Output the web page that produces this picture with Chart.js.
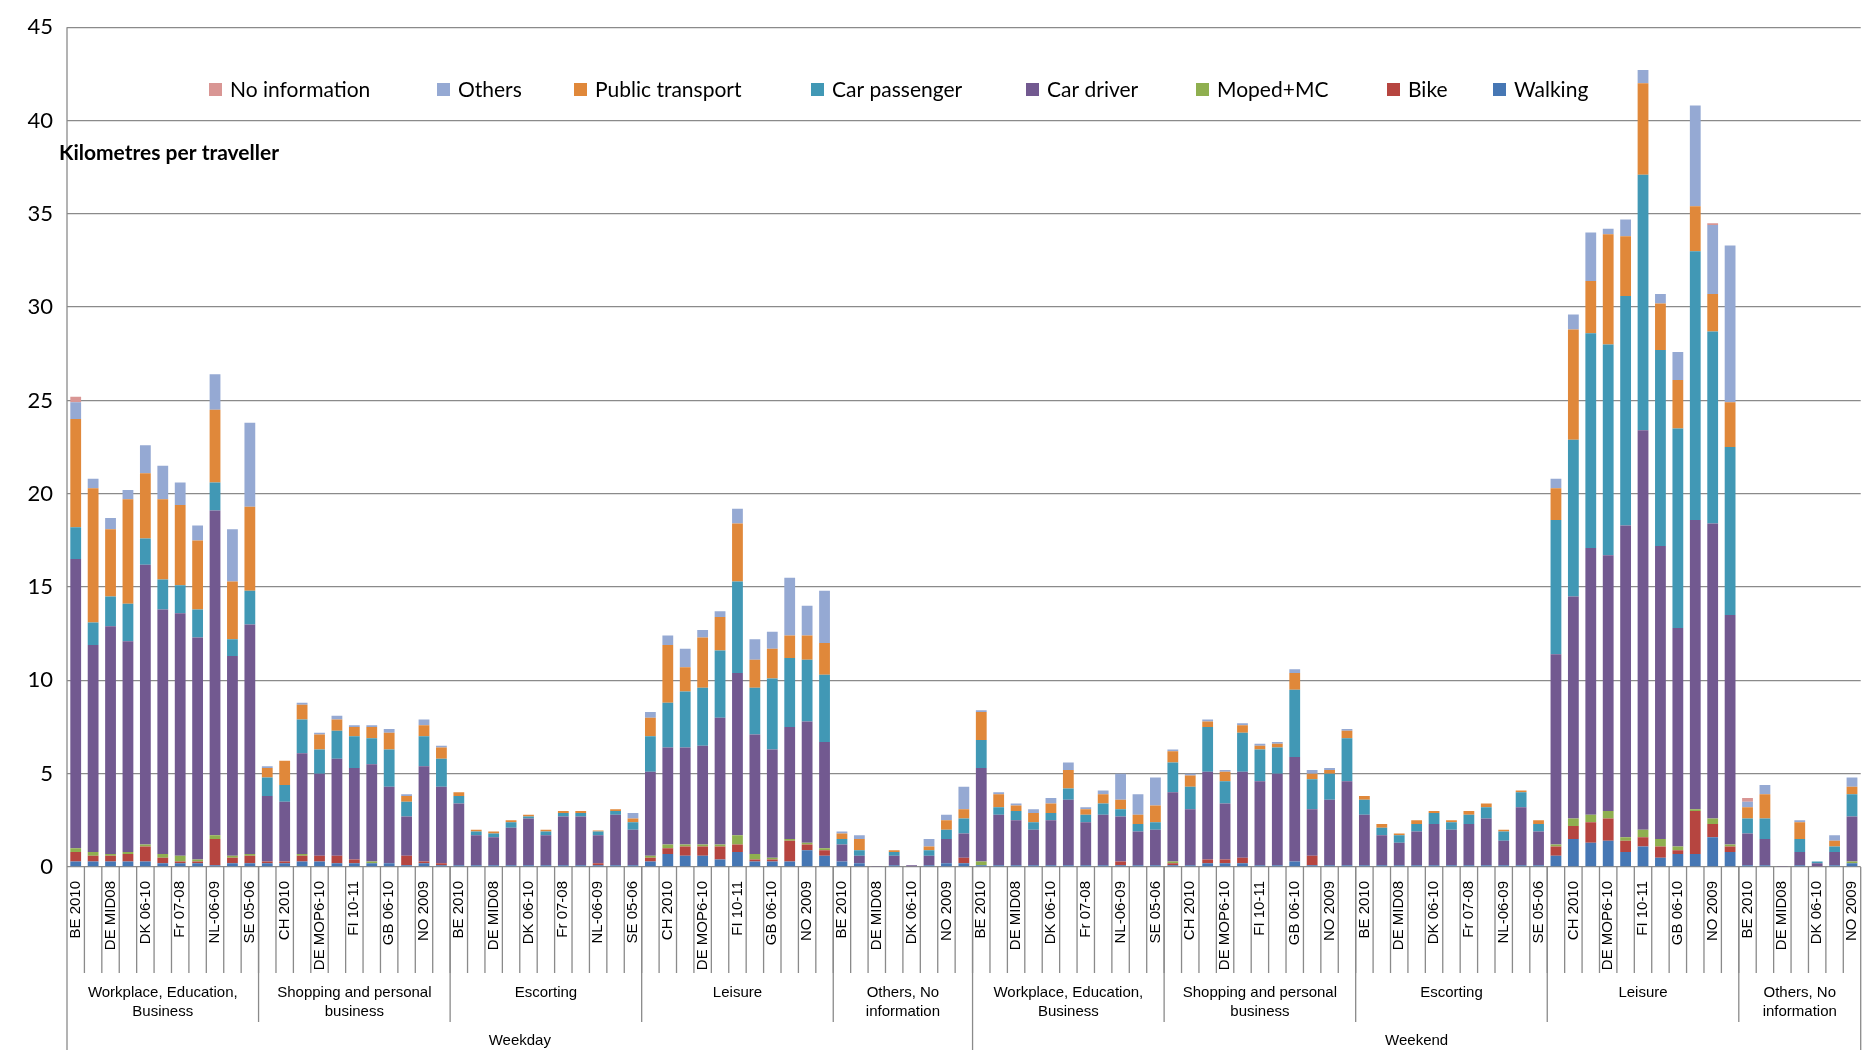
<!DOCTYPE html>
<html><head><meta charset="utf-8">
<script src="https://cdn.jsdelivr.net/npm/chart.js@4"></script>
<style>html,body{margin:0;padding:0;background:#fff}#wrap{width:1876px;height:1050px}</style>
</head><body><div id="wrap"><canvas id="c"></canvas></div>
<script>
const countries11 = ['BE 2010','CH 2010','DE MID08','DE MOP6-10','DK 06-10','FI 10-11','Fr 07-08','GB 06-10','NL-06-09','NO 2009','SE 05-06'];
const countriesOthers = ['BE 2010','CH 2010','DE MID08','DE MOP6-10','DK 06-10','GB 06-10','NO 2009','SE 05-06'];
const purposes = ['Workplace, Education,|Business','Shopping and personal|business','Escorting','Leisure','Others, No|information'];
const days = ['Weekday','Weekend'];
const groupCounts = [[11,11,11,11,8],[11,11,11,11,7]];
const seriesNames = ['Walking','Bike','Moped+MC','Car driver','Car passenger','Public transport','Others','No information'];
const seriesColors = ['#4677B4','#B64540','#8FAF4F','#725990','#4198B5','#E0883A','#95A9D3','#D99694'];

const walking = [
 .3,.3,.3,.3,.3,.2,.2,.2,.1,.2,.2,
 .2,.2,.3,.3,.2,.2,.2,.2,.1,.2,.1,
 .1,.1,.1,.1,.1,.1,.1,.1,.1,.1,.1,
 .3,.7,.6,.6,.4,.8,.3,.3,.3,.9,.6,
 .3,.2,0,.1,0,.1,.2,.2,
 .1,.1,.1,.1,.1,.1,.1,.1,.1,.1,.1,
 .1,.1,.2,.2,.2,.1,.1,.3,.1,.1,.1,
 .1,.1,.1,.1,.1,.1,.1,.1,.1,.1,.1,
 .6,1.5,1.3,1.4,.8,1.1,.5,.7,.7,1.6,.8,
 .1,.1,0,.1,0,.1,.2];
const bike = [
 .5,.3,.3,.4,.8,.3,.1,.1,1.4,.3,.4,
 .1,.1,.3,.3,.4,.2,0,0,.5,.1,.1,
 0,0,0,0,0,0,0,0,.1,0,0,
 .2,.3,.5,.5,.7,.4,.1,.1,1.1,.3,.3,
 0,0,0,0,0,0,0,.3,
 0,0,0,0,0,0,0,0,.2,0,0,
 .1,0,.2,.2,.3,0,0,0,.5,0,0,
 0,0,0,0,0,0,0,0,0,0,0,
 .5,.7,1.1,1.2,.6,.5,.6,.2,2.3,.7,.3,
 0,0,0,0,0,0,0];
const moped = [
 .2,.2,.1,.1,.1,.2,.3,.1,.2,.1,.1,
 0,0,.1,0,0,0,.1,0,0,0,0,
 0,0,0,0,0,0,0,0,0,0,0,
 .1,.2,.1,.1,.1,.5,.3,.1,.1,.1,.1,
 0,0,0,0,0,0,0,0,
 .2,0,0,0,0,0,0,0,0,0,0,
 .1,0,0,0,0,0,0,0,0,0,0,
 0,0,0,0,0,0,0,0,0,0,0,
 .1,.4,.4,.4,.2,.4,.4,.2,.1,.3,.1,
 0,0,0,0,0,0,.1];
const carDriver = [
 15.5,11.1,12.2,11.3,15,13.1,13,11.9,17.4,10.7,12.3,
 3.5,3.2,5.4,4.4,5.2,4.9,5.2,4.1,2.1,5.1,4.1,
 3.3,1.6,1.5,2.0,2.5,1.6,2.6,2.6,1.5,2.7,1.9,
 4.5,5.2,5.2,5.3,6.8,8.7,6.4,5.8,6.0,6.5,5.7,
 .9,.4,.05,.5,.1,.5,1.3,1.3,
 5.0,2.7,2.4,1.9,2.4,3.5,2.3,2.7,2.4,1.8,1.9,
 3.7,3.0,4.7,3.0,4.6,4.5,4.9,5.6,2.5,3.5,4.5,
 2.7,1.6,1.2,1.8,2.2,1.9,2.2,2.5,1.3,3.1,1.8,
 10.2,11.9,14.3,13.7,16.7,21.4,15.7,11.7,15.5,15.8,12.3,
 1.7,1.4,.05,.7,.2,.7,2.4];
const carPassenger = [
 1.7,1.2,1.6,2.0,1.4,1.6,1.5,1.5,1.5,.9,1.8,
 1.0,.9,1.8,1.3,1.5,1.7,1.4,2.0,.8,1.6,1.5,
 .4,.2,.2,.3,.1,.2,.2,.2,.2,.2,.4,
 1.9,2.4,3.0,3.1,3.6,4.9,2.5,3.8,3.7,3.3,3.6,
 .3,.3,0,.2,0,.3,.5,.8,
 1.5,.4,.5,.4,.4,.6,.4,.6,.4,.4,.4,
 1.6,1.2,2.4,1.2,2.1,1.7,1.4,3.6,1.6,1.4,2.3,
 .8,.4,.4,.4,.6,.4,.5,.6,.5,.8,.4,
 7.2,8.4,11.5,11.3,12.3,13.7,10.5,10.7,14.4,10.3,9.0,
 .8,1.1,0,.7,.1,.3,1.2];
const publicTransport = [
 5.8,7.2,3.6,5.6,3.5,4.3,4.3,3.7,3.9,3.1,4.5,
 .5,1.3,.8,.8,.6,.5,.6,.9,.3,.6,.6,
 .2,.1,.1,.1,.1,.1,.1,.1,.05,.1,.2,
 1.0,3.1,1.3,2.7,1.8,3.1,1.5,1.6,1.2,1.3,1.7,
 .3,.6,0,.1,0,.2,.5,.5,
 1.5,.7,.3,.5,.5,1.0,.3,.5,.5,.5,.9,
 .6,.6,.3,.5,.4,.2,.2,.9,.3,.2,.4,
 .2,.2,.1,.2,.1,.1,.2,.2,.1,.1,.2,
 1.7,5.9,2.8,5.9,3.2,4.9,2.5,2.6,2.4,2.0,2.4,
 .6,1.3,0,.9,0,.3,.4];
const others = [
 .9,.5,.6,.5,1.5,1.8,1.2,.8,1.9,2.8,4.5,
 .1,0,.1,.1,.2,.1,.1,.2,.1,.3,.1,
 0,0,0,0,0,0,0,0,0,0,.3,
 .3,.5,1.0,.4,.3,.8,1.1,.9,3.1,1.6,2.8,
 .1,.2,0,0,0,.4,.3,1.2,
 .1,.1,.1,.2,.3,.4,.1,.2,1.4,1.1,1.5,
 .1,.1,.1,.1,.1,.1,.1,.2,.2,.1,.1,
 0,0,0,0,0,0,0,0,0,0,0,
 .5,.8,2.6,.3,.9,.7,.5,1.5,5.4,3.7,8.4,
 .3,.5,0,.1,0,.3,.5];
const noInformation = [
 .3,0,0,0,0,0,0,0,0,0,0,
 0,0,0,0,0,0,0,0,0,0,0,
 0,0,0,0,0,0,0,0,0,0,0,
 0,0,0,0,0,0,0,0,0,0,0,
 0,0,0,0,0,0,0,0,
 0,0,0,0,0,0,0,0,0,0,0,
 0,0,0,0,0,0,0,0,0,0,0,
 0,0,0,0,0,0,0,0,0,0,0,
 0,0,0,0,0,0,0,0,0,.1,0,
 .2,0,0,0,0,0,0];
const yTicks = [0,5,10,15,20,25,30,35,40,45];

const labels = [];
groupCounts.forEach(g => g.forEach((n,pi) => {
  const src = pi===4 ? countriesOthers : countries11;
  for (let i=0;i<n;i++) labels.push(src[i]);
}));
const seriesData = [walking,bike,moped,carDriver,carPassenger,publicTransport,others,noInformation];
const datasets = seriesData.map((d,i)=>({label:seriesNames[i],data:d,backgroundColor:seriesColors[i],
  barPercentage:0.62,categoryPercentage:1,stack:'s'}));

const LINE='#8a8a8a';
const deco = {
  id:'deco',
  afterDraw(chart){
    const ctx=chart.ctx, xs=chart.scales.x, area=chart.chartArea;
    const cw = xs.getPixelForValue(1)-xs.getPixelForValue(0);
    const edge = i => xs.getPixelForValue(i)-cw/2;
    const b=area.bottom;
    ctx.save();
    ctx.strokeStyle=LINE; ctx.lineWidth=1.3;
    // left axis line
    ctx.beginPath(); ctx.moveTo(area.left,area.top); ctx.lineTo(area.left,1050); ctx.stroke();
    // category separators
    for(let i=1;i<labels.length;i++){ const x=edge(i); ctx.beginPath(); ctx.moveTo(x,b); ctx.lineTo(x,973); ctx.stroke(); }
    // group labels
    ctx.fillStyle='#000'; ctx.textAlign='center'; ctx.textBaseline='middle';
    let idx=0;
    groupCounts.forEach((g,di)=>{
      const dayStart=idx;
      g.forEach((n,pi)=>{
        const s=idx, e=idx+n; idx=e;
        const xE=edge(e);
        ctx.beginPath(); ctx.moveTo(xE,b); ctx.lineTo(xE, (pi===4)?1050:1022); ctx.stroke();
        const xm=(edge(s)+edge(e))/2;
        ctx.font='15px "Liberation Sans", Arial, sans-serif';
        const parts=purposes[pi].split('|');
        if(parts.length===1) ctx.fillText(parts[0],xm,993);
        else { ctx.fillText(parts[0],xm,993); ctx.fillText(parts[1],xm,1012); }
      });
      const xm=(edge(dayStart)+edge(idx))/2;
      ctx.font='15px "Liberation Sans", Arial, sans-serif';
      ctx.fillText(days[di],xm,1041);
    });
    // legend
    const lx=[209,437,574,811,1026,1196,1387,1493];
    ctx.font='21px Lato, "Open Sans", sans-serif'; ctx.textAlign='left';
    for(let k=0;k<8;k++){
      const si=7-k;
      ctx.fillStyle=seriesColors[si]; ctx.fillRect(lx[k],83,13,13);
      ctx.fillStyle='#000'; ctx.fillText(seriesNames[si],lx[k]+21,90);
    }
    ctx.font='bold 21px Lato, "Open Sans", sans-serif';
    ctx.fillText('Kilometres per traveller',59,153);
    ctx.restore();
  }
};

new Chart(document.getElementById('c'),{
  type:'bar',
  data:{labels,datasets},
  options:{
    responsive:true, maintainAspectRatio:false, animation:false,
    layout:{padding:{left:0,right:0,top:21,bottom:58}},
    plugins:{legend:{display:false},tooltip:{enabled:false}},
    scales:{
      x:{stacked:true, offset:true, grid:{display:false}, border:{display:false},
        ticks:{autoSkip:false,minRotation:90,maxRotation:90,padding:6,color:'#000',
          font:{family:'"Liberation Sans", Arial, sans-serif',size:15},
          callback:(v,i)=> i%2===0 ? labels[i] : ''},
        afterFit:s=>{s.height=125;}},
      y:{stacked:true,min:0,max:45,
        afterBuildTicks:s=>{s.ticks=yTicks.map(v=>({value:v}));},
        grid:{color:LINE,lineWidth:1.3,drawTicks:false},
        border:{display:false},
        ticks:{color:'#000',padding:14,font:{family:'Lato, "Open Sans", sans-serif',size:22}},
        afterFit:s=>{s.width=67;}}
    }
  },
  plugins:[deco]
});
</script></body></html>
